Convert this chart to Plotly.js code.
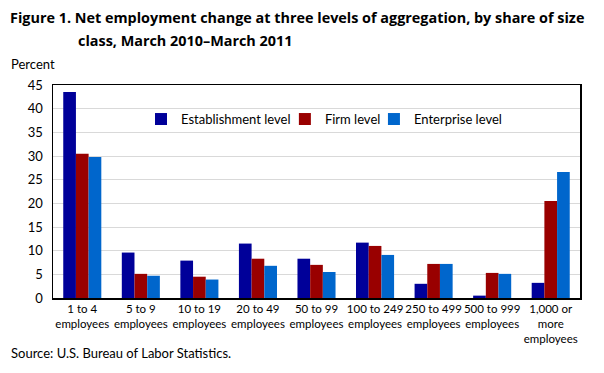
<!DOCTYPE html>
<html><head><meta charset="utf-8">
<script src="https://cdn.plot.ly/plotly-3.0.1.min.js"></script>
<style>body{margin:0;padding:0;background:#fff}#chart{width:604px;height:373px}</style>
</head><body><div id="chart"></div>
<script>
const categories = ["1 to 4<br>employees","5 to 9<br>employees","10 to 19<br>employees","20 to 49<br>employees","50 to 99<br>employees","100 to 249<br>employees","250 to 499<br>employees","500 to 999<br>employees","1,000 or<br>more<br>employees"];
const establishment = [43.5, 9.6, 7.9, 11.5, 8.3, 11.7, 3.0, 0.5, 3.2];
const firm = [30.5, 5.1, 4.5, 8.3, 7.0, 11.0, 7.2, 5.3, 20.5];
const enterprise = [29.8, 4.7, 3.9, 6.8, 5.5, 9.1, 7.2, 5.1, 26.6];
const yTicks = [0,5,10,15,20,25,30,35,40,45];

const F = 'Lato, sans-serif';
const TF = '"Open Sans", sans-serif';
const traces = [
  {type:'bar', name:'Establishment level', x:categories, y:establishment, marker:{color:'#000099'}, legend:'legend'},
  {type:'bar', name:'Firm level', x:categories, y:firm, marker:{color:'#990000'}, legend:'legend2'},
  {type:'bar', name:'Enterprise level', x:categories, y:enterprise, marker:{color:'#0066cc'}, legend:'legend3'}
];
const leg = (x) => ({orientation:'h', x:x, y:0.84, xanchor:'left', yanchor:'middle', font:{family:F, size:13}, bgcolor:'rgba(0,0,0,0)', itemwidth:30});
const layout = {
  width:604, height:373,
  margin:{l:53, r:24, t:85, b:75},
  paper_bgcolor:'#fff', plot_bgcolor:'#fff',
  barmode:'group', bargap:0.35, bargroupgap:0,
  font:{family:F, size:12, color:'#000'},
  showlegend:true,
  legend:leg(0.167), legend2:leg(0.44), legend3:leg(0.609),
  xaxis:{type:'category', showline:true, linecolor:'#000', linewidth:1.5, mirror:true, ticks:'', tickangle:0, tickfont:{family:F, size:11.5}, fixedrange:true},
  yaxis:{range:[0,45], tickvals:yTicks, showline:true, linecolor:'#000', linewidth:1.5, mirror:true, gridcolor:'#d9d9d9', gridwidth:1, ticks:'', tickfont:{family:F, size:13}, zeroline:false, ticklabelstandoff:6},
  annotations:[
    {text:'<b>Figure 1. Net employment change at three levels of aggregation, by share of size</b>', xref:'paper', yref:'paper', x:-0.086, y:1.315, xanchor:'left', yanchor:'middle', showarrow:false, font:{family:TF, size:14.4}},
    {text:'<b>class, March 2010–March 2011</b>', xref:'paper', yref:'paper', x:0.044, y:1.21, xanchor:'left', yanchor:'middle', showarrow:false, font:{family:TF, size:14.4}},
    {text:'Percent', xref:'paper', yref:'paper', x:-0.083, y:1.1, xanchor:'left', yanchor:'middle', showarrow:false, font:{family:F, size:13}},
    {text:'Source: U.S. Bureau of Labor Statistics.', xref:'paper', yref:'paper', x:-0.083, y:-0.26, xanchor:'left', yanchor:'middle', showarrow:false, font:{family:F, size:13}}
  ]
};
Plotly.newPlot('chart', traces, layout, {displayModeBar:false, staticPlot:true});
</script></body></html>
